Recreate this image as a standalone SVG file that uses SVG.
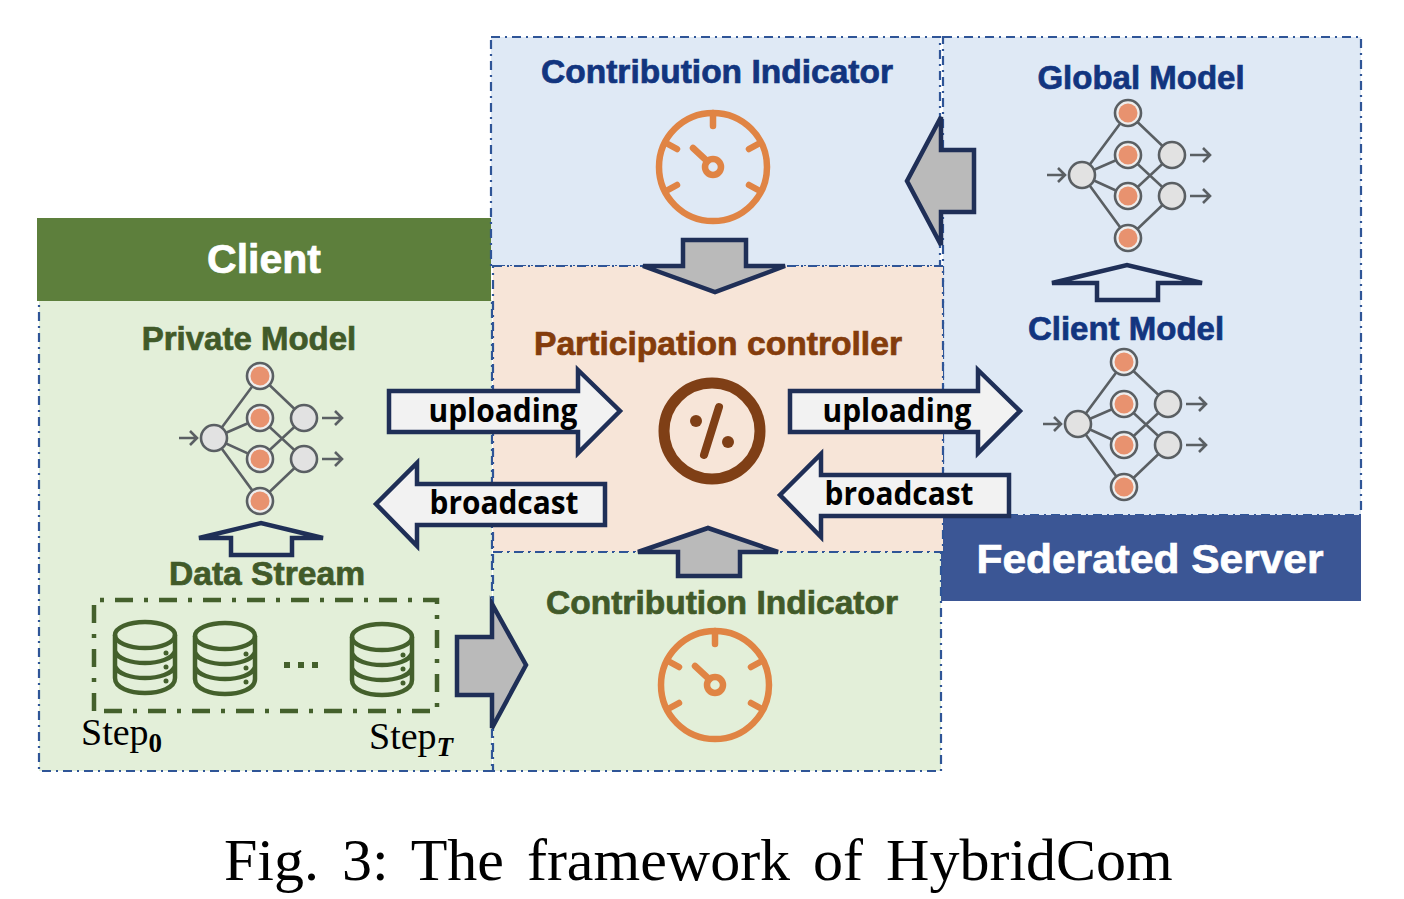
<svg xmlns="http://www.w3.org/2000/svg" width="1404" height="899" viewBox="0 0 1404 899">
<style>
.box{stroke:#2f5597;stroke-width:2.2;stroke-dasharray:9 5 2 5}
.ar{stroke:#1f2f57;stroke-width:4.5;stroke-linejoin:miter}
.w{fill:#f2f2f2}.g{fill:#bababa}
.t{font-family:"Liberation Sans",Arial,sans-serif;font-weight:700;text-anchor:middle;stroke-width:.7}
.bl{fill:#12357f;stroke:#12357f;font-size:33px}
.gr{fill:#415a29;stroke:#415a29;font-size:33px}
.lb{font-family:"Open Sans","Liberation Sans",sans-serif;font-weight:700;font-size:32px;fill:#000;text-anchor:middle}
.wh{fill:#fff;stroke:#fff}
.ln{stroke:#5a5f63;stroke-width:2.6;fill:none}
.ng{fill:#e2e2e2;stroke:#5a5f63;stroke-width:2.6}
.no{fill:#e8926f}
.ri{fill:#eee;stroke:#5a5f63;stroke-width:2.6}
.ga{fill:none;stroke:#e08444;stroke-width:6.5;stroke-linecap:round}
.db{fill:none;stroke:#44602c;stroke-width:4.5}
.st{font-family:"Liberation Serif","Times New Roman",serif;font-size:38px;fill:#000}
.sub{font-weight:700;font-size:27px}
</style>
<defs>
<g id="net">
<path class="ln" d="M214 438L260 376L304 418L260 459M214 438L260 418L304 459L260 501L214 438L260 459"/>
<path class="ln" d="M179 438H197M190 431L197 438L190 445M322 418H342M335 411L342 418L335 425M322 459H342M335 452L342 459L335 466"/>
<circle class="ng" cx="214" cy="438" r="13"/><circle class="ng" cx="304" cy="418" r="13"/><circle class="ng" cx="304" cy="459" r="13"/>
<circle class="ri" cx="260" cy="376" r="13"/><circle class="ri" cx="260" cy="418" r="13"/><circle class="ri" cx="260" cy="459" r="13"/><circle class="ri" cx="260" cy="501" r="13"/>
<circle class="no" cx="260" cy="376" r="9.5"/><circle class="no" cx="260" cy="418" r="9.5"/><circle class="no" cx="260" cy="459" r="9.5"/><circle class="no" cx="260" cy="501" r="9.5"/>
</g>
<g id="gauge">
<circle class="ga" cx="0" cy="0" r="54"/>
<circle cx="0" cy="0" r="8" fill="none" stroke="#e08444" stroke-width="6.5"/>
<path class="ga" d="M-6 -6L-20 -19M0 -54V-41M-47 -24L-36 -18M47 -24L36 -18M-47 24L-36 18M47 24L36 18"/>
</g>
<g id="db">
<ellipse class="db" cx="0" cy="-22" rx="30" ry="13"/>
<path class="db" d="M-30 -22V21C-30 41 30 41 30 21V-22M-30 -6C-25 10 25 10 30 -6M-30 9C-25 25 25 25 30 9"/>
<circle cx="21" cy="-4" r="2.5" fill="#44602c"/><circle cx="21" cy="10" r="2.5" fill="#44602c"/><circle cx="21" cy="24" r="2.5" fill="#44602c"/>
</g>
</defs>

<g id="client"><rect class="box" x="39" y="300" width="453" height="471" fill="#e3efd9"/><rect x="37" y="218" width="454" height="83" fill="#5d7f3c"/>
<text class="t wh" x="264" y="273" font-size="41">Client</text>
<text class="t gr" x="249" y="350">Private Model</text>
<use href="#net"/>
<text class="t gr" x="267" y="585" textLength="196" lengthAdjust="spacingAndGlyphs">Data Stream</text>
<path d="M94 711V600H437V711Z" fill="none" stroke="#44602c" stroke-width="4.5" stroke-dasharray="18 11 4 11"/>
<use href="#db" x="145" y="657"/><use href="#db" x="225" y="658"/><use href="#db" x="382" y="659"/>
<path d="M284 662h6v6h-6zM298 662h6v6h-6zM312 662h6v6h-6z" fill="#44602c"/>
<text class="st" x="81" y="745">Step<tspan class="sub" dy="7">0</tspan></text>
<text class="st" x="369" y="749">Step<tspan class="sub" dy="7" font-style="italic">T</tspan></text>
</g>
<g id="indicator-top"><rect class="box" x="491" y="37" width="449" height="229" fill="#dfe9f5"/>
<text class="t bl" x="717" y="83" textLength="352" lengthAdjust="spacingAndGlyphs">Contribution Indicator</text>
<use href="#gauge" x="713" y="167"/></g>
<g id="server"><rect class="box" x="943" y="37" width="418" height="478" fill="#dfe9f5"/><rect x="941" y="515" width="420" height="86" fill="#3b5695"/>
<text class="t bl" x="1141" y="89">Global Model</text>
<use href="#net" x="868" y="-263"/>
<text class="t bl" x="1126" y="340">Client Model</text>
<use href="#net" x="864" y="-14"/>
<text class="t wh" x="1150" y="573" font-size="41" textLength="347" lengthAdjust="spacingAndGlyphs">Federated Server</text></g>
<g id="participation"><rect class="box" x="493" y="266" width="450" height="286" fill="#f7e5d8"/>
<text class="t" x="718" y="355" textLength="368" lengthAdjust="spacingAndGlyphs" style="font-size:33px;fill:#843c0c;stroke:#843c0c">Participation controller</text>
<circle cx="712" cy="431" r="48" fill="none" stroke="#7f3f16" stroke-width="11"/>
<path d="M719 407L704 455" stroke="#7f3f16" stroke-width="8" stroke-linecap="round"/><circle cx="696" cy="421" r="6" fill="#7f3f16"/><circle cx="728" cy="442" r="6" fill="#7f3f16"/></g>
<g id="indicator-bottom"><rect class="box" x="493" y="552" width="448" height="219" fill="#e3efd9"/>
<text class="t gr" x="722" y="614" textLength="352" lengthAdjust="spacingAndGlyphs">Contribution Indicator</text>
<use href="#gauge" x="715" y="685"/></g>

<g id="connectors">
<path class="ar w" d="M389 391H578V370L620 411L578 453V432H389Z"/>
<path class="ar w" d="M605 484H417V463L376 504L417 546V525H605Z"/>
<path class="ar w" d="M790 391H978V370L1020 411L978 453V432H790Z"/>
<path class="ar w" d="M1009 475H821V454L780 495L821 537V516H1009Z"/>
<path class="ar g" d="M457 637H492V604L526 665L492 728V695H457Z"/>
<path class="ar g" d="M974 150H941V117L907 181L941 245V212H974Z"/>
<path class="ar g" d="M683 240H746V266H785L715 292L643 266H683Z"/>
<path class="ar g" d="M678 576H740V552H778L708 528L638 552H678Z"/>
<path class="ar" fill="none" d="M231 555H292V538H323L261 523L199 538H231Z"/>
<path class="ar" fill="none" d="M1097 300H1158V283H1202L1127 265L1052 283H1097Z"/>
<text class="lb" x="503" y="422" textLength="149" lengthAdjust="spacingAndGlyphs">uploading</text>
<text class="lb" x="504" y="514" textLength="149" lengthAdjust="spacingAndGlyphs">broadcast</text>
<text class="lb" x="897" y="422" textLength="149" lengthAdjust="spacingAndGlyphs">uploading</text>
<text class="lb" x="899" y="505" textLength="149" lengthAdjust="spacingAndGlyphs">broadcast</text>
</g>
<text id="caption" x="224" y="880" style="font-family:'Liberation Serif','Times New Roman',serif;font-size:60px;word-spacing:8px;fill:#000">Fig. 3: The framework of HybridCom</text>
</svg>
